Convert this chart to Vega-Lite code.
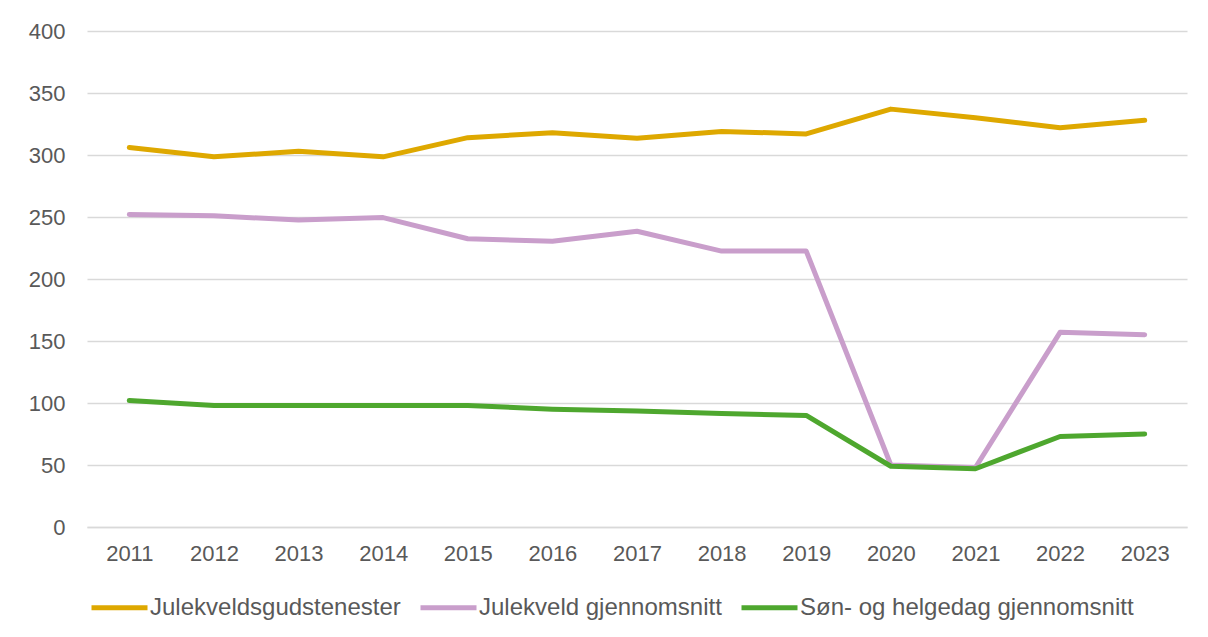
{
  "$schema": "https://vega.github.io/schema/vega-lite/v6.json",
  "width": 1100,
  "height": 496,
  "autosize": {"type": "none"},
  "padding": {"left": 87, "top": 31, "right": 21, "bottom": 110},
  "background": "white",
  "config": {
    "view": {"stroke": null},
    "font": "Liberation Sans"
  },
  "data": {
    "values": [
      {"year": "2011", "series": "Julekveldsgudstenester", "value": 306},
      {"year": "2012", "series": "Julekveldsgudstenester", "value": 298.5},
      {"year": "2013", "series": "Julekveldsgudstenester", "value": 303},
      {"year": "2014", "series": "Julekveldsgudstenester", "value": 298.5},
      {"year": "2015", "series": "Julekveldsgudstenester", "value": 314},
      {"year": "2016", "series": "Julekveldsgudstenester", "value": 318},
      {"year": "2017", "series": "Julekveldsgudstenester", "value": 313.5},
      {"year": "2018", "series": "Julekveldsgudstenester", "value": 319},
      {"year": "2019", "series": "Julekveldsgudstenester", "value": 317},
      {"year": "2020", "series": "Julekveldsgudstenester", "value": 337},
      {"year": "2021", "series": "Julekveldsgudstenester", "value": 330},
      {"year": "2022", "series": "Julekveldsgudstenester", "value": 322},
      {"year": "2023", "series": "Julekveldsgudstenester", "value": 328},
      {"year": "2011", "series": "Julekveld gjennomsnitt", "value": 252},
      {"year": "2012", "series": "Julekveld gjennomsnitt", "value": 251},
      {"year": "2013", "series": "Julekveld gjennomsnitt", "value": 247.5},
      {"year": "2014", "series": "Julekveld gjennomsnitt", "value": 249.5},
      {"year": "2015", "series": "Julekveld gjennomsnitt", "value": 232.5},
      {"year": "2016", "series": "Julekveld gjennomsnitt", "value": 230.5},
      {"year": "2017", "series": "Julekveld gjennomsnitt", "value": 238.5},
      {"year": "2018", "series": "Julekveld gjennomsnitt", "value": 222.5},
      {"year": "2019", "series": "Julekveld gjennomsnitt", "value": 222.5},
      {"year": "2020", "series": "Julekveld gjennomsnitt", "value": 50},
      {"year": "2021", "series": "Julekveld gjennomsnitt", "value": 48},
      {"year": "2022", "series": "Julekveld gjennomsnitt", "value": 157},
      {"year": "2023", "series": "Julekveld gjennomsnitt", "value": 155},
      {"year": "2011", "series": "Søn- og helgedag gjennomsnitt", "value": 102},
      {"year": "2012", "series": "Søn- og helgedag gjennomsnitt", "value": 98},
      {"year": "2013", "series": "Søn- og helgedag gjennomsnitt", "value": 98},
      {"year": "2014", "series": "Søn- og helgedag gjennomsnitt", "value": 98},
      {"year": "2015", "series": "Søn- og helgedag gjennomsnitt", "value": 98},
      {"year": "2016", "series": "Søn- og helgedag gjennomsnitt", "value": 95},
      {"year": "2017", "series": "Søn- og helgedag gjennomsnitt", "value": 93.5},
      {"year": "2018", "series": "Søn- og helgedag gjennomsnitt", "value": 91.5},
      {"year": "2019", "series": "Søn- og helgedag gjennomsnitt", "value": 90},
      {"year": "2020", "series": "Søn- og helgedag gjennomsnitt", "value": 49},
      {"year": "2021", "series": "Søn- og helgedag gjennomsnitt", "value": 47},
      {"year": "2022", "series": "Søn- og helgedag gjennomsnitt", "value": 73},
      {"year": "2023", "series": "Søn- og helgedag gjennomsnitt", "value": 75}
    ]
  },
  "mark": {"type": "line", "strokeWidth": 5, "strokeCap": "round", "strokeJoin": "round"},
  "encoding": {
    "x": {
      "field": "year",
      "type": "ordinal",
      "scale": {"type": "point", "padding": 0.5},
      "axis": {
        "title": null,
        "labelAngle": 0,
        "labelFont": "Liberation Sans",
        "labelFontSize": 22,
        "labelColor": "#595959",
        "labelPadding": 16,
        "ticks": false,
        "tickSize": 0,
        "domainColor": "#D9D9D9",
        "domainWidth": 1.5,
        "grid": false
      }
    },
    "y": {
      "field": "value",
      "type": "quantitative",
      "scale": {"domain": [0, 400], "nice": false, "zero": true},
      "axis": {
        "title": null,
        "values": [0, 50, 100, 150, 200, 250, 300, 350, 400],
        "labelFont": "Liberation Sans",
        "labelFontSize": 22,
        "labelColor": "#595959",
        "labelPadding": 22,
        "ticks": false,
        "tickSize": 0,
        "domain": false,
        "grid": true,
        "gridColor": "#D9D9D9",
        "gridWidth": 1.5
      }
    },
    "color": {
      "field": "series",
      "type": "nominal",
      "sort": ["Julekveldsgudstenester", "Julekveld gjennomsnitt", "Søn- og helgedag gjennomsnitt"],
      "scale": {
        "domain": ["Julekveldsgudstenester", "Julekveld gjennomsnitt", "Søn- og helgedag gjennomsnitt"],
        "range": ["#DEA800", "#C99ECB", "#4EA72E"]
      },
      "legend": {
        "title": null,
        "orient": "none",
        "legendX": 2,
        "legendY": 546,
        "direction": "horizontal",
        "symbolType": "stroke",
        "symbolSize": 3136,
        "symbolStrokeWidth": 5,
        "labelFont": "Liberation Sans",
        "labelFontSize": 24,
        "labelColor": "#595959",
        "labelOffset": 0,
        "columnPadding": 9,
        "labelLimit": 500
      }
    }
  }
}
